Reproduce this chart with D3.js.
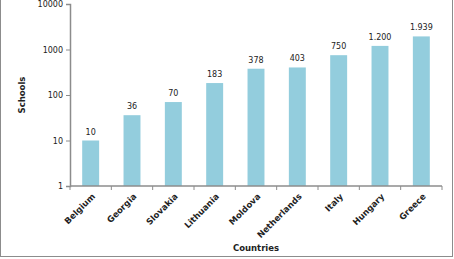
<!DOCTYPE html>
<html>
<head>
<meta charset="utf-8">
<script src="https://cdn.jsdelivr.net/npm/d3@7"></script>
<style>
  body { margin: 0; background: #fff; }
  svg { display: block; }
  text { font-family: "DejaVu Sans", Verdana, sans-serif; }
</style>
</head>
<body>
<svg id="chart" width="454" height="259"></svg>
<script>
// data
var countries = ['Belgium', 'Georgia', 'Slovakia', 'Lithuania', 'Moldova', 'Netherlands', 'Italy', 'Hungary', 'Greece']
var schools = [10, 36, 70, 183, 378, 403, 750, 1200, 1939]
var yTicks = [1, 10, 100, 1000, 10000]

var svg = d3.select('#chart')
var plotLeft = 70, plotRight = 442, plotTop = 4, plotBottom = 186

// outer frame
svg.append('rect')
    .attr('x', 0.5).attr('y', -1)
    .attr('width', 452).attr('height', 257.5)
    .attr('fill', 'none').attr('stroke', '#8c8c8c')

var x = d3.scaleBand().domain(countries).range([plotLeft, plotRight]).paddingInner(0.59).paddingOuter(0.295)
var y = d3.scaleLog().domain([1, 10000]).range([plotBottom, plotTop])

function fmt(v) {
    return d3.format(',')(v).replace(/,/g, '.')
}

svg.selectAll('.bar')
    .data(countries)
    .enter().append('rect')
    .attr('class', 'bar')
    .attr('x', function(d) { return x(d) })
    .attr('width', x.bandwidth())
    .attr('y', function(d, i) { return y(schools[i]) })
    .attr('height', function(d, i) { return plotBottom - y(schools[i]) })
    .attr('fill', '#93cddd')

svg.selectAll('.val')
    .data(countries)
    .enter().append('text')
    .attr('class', 'val')
    .attr('x', function(d) { return x(d) + x.bandwidth() / 2 })
    .attr('y', function(d, i) { return y(schools[i]) - 6 })
    .attr('text-anchor', 'middle')
    .attr('font-size', 8)
    .attr('fill', '#222')
    .text(function(d, i) { return fmt(schools[i]) })

// y axis
var yAxis = d3.axisLeft(y).tickValues(yTicks).tickFormat(d3.format('d')).tickSize(4).tickPadding(3)
var gy = svg.append('g').attr('transform', 'translate(' + plotLeft + ',0)').call(yAxis)
gy.select('.domain').attr('stroke', '#8c8c8c').attr('stroke-width', 1.5)
gy.selectAll('.tick line').attr('stroke', '#8c8c8c')
gy.selectAll('.tick text').attr('font-size', 8).attr('fill', '#222').style('font-family', '"DejaVu Sans", sans-serif')

// x axis
var gx = svg.append('g').attr('transform', 'translate(0,' + plotBottom + ')')
gx.append('line').attr('x1', plotLeft).attr('x2', plotRight).attr('stroke', '#8c8c8c').attr('stroke-width', 1.5)
var step = (plotRight - plotLeft) / countries.length
gx.selectAll('.xt')
    .data(d3.range(countries.length + 1))
    .enter().append('line')
    .attr('x1', function(i) { return plotLeft + i * step })
    .attr('x2', function(i) { return plotLeft + i * step })
    .attr('y1', 0).attr('y2', 4)
    .attr('stroke', '#8c8c8c')

gx.selectAll('.xl')
    .data(countries)
    .enter().append('text')
    .attr('transform', function(d) { return 'translate(' + (x(d) + x.bandwidth() / 2 + 5) + ',11) rotate(-45)' })
    .attr('text-anchor', 'end')
    .attr('font-size', 8.5)
    .attr('font-weight', 'bold')
    .attr('fill', '#222')
    .text(function(d) { return d })

svg.append('text')
    .attr('x', 256).attr('y', 251)
    .attr('text-anchor', 'middle')
    .attr('font-size', 8.5).attr('font-weight', 'bold').attr('fill', '#222')
    .text('Countries')

svg.append('text')
    .attr('transform', 'translate(25,' + ((plotTop + plotBottom) / 2) + ') rotate(-90)')
    .attr('text-anchor', 'middle')
    .attr('font-size', 8.5).attr('font-weight', 'bold').attr('fill', '#222')
    .text('Schools')
</script>
</body>
</html>
